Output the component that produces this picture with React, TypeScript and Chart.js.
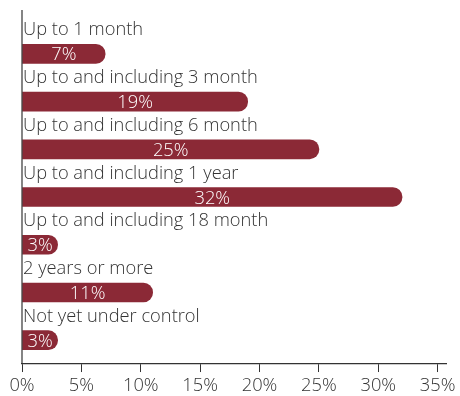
import React, { useEffect, useRef } from 'react';
import { Chart, registerables } from 'chart.js';

Chart.register(...registerables);

const categories = [
  'Up to 1 month',
  'Up to and including 3 month',
  'Up to and including 6 month',
  'Up to and including 1 year',
  'Up to and including 18 month',
  '2 years or more',
  'Not yet under control',
];
const values = [7, 19, 25, 32, 3, 11, 3];
const tickValues = [0, 5, 10, 15, 20, 25, 30, 35];
const axisMin = 0;
const axisMax = 35.7;

const BAR = '#8B2936';
const TEXT = '#333333';
const FONT = '"Open Sans", "Liberation Sans", sans-serif';
const FONT_SIZE = 18.3;
const FONT_WEIGHT = '300';

const labelsPlugin = {
  id: 'barLabels',
  afterDatasetsDraw(chart: any) {
    const { ctx, chartArea } = chart;
    const meta = chart.getDatasetMeta(0);
    ctx.save();
    ctx.strokeStyle = TEXT;
    ctx.lineWidth = 1.2;
    ctx.beginPath();
    ctx.moveTo(chartArea.left, 10);
    ctx.lineTo(chartArea.left, chartArea.bottom);
    ctx.stroke();

    ctx.font = `${FONT_WEIGHT} ${FONT_SIZE}px ${FONT}`;
    meta.data.forEach((bar: any, i: number) => {
      ctx.fillStyle = TEXT;
      ctx.textAlign = 'left';
      ctx.textBaseline = 'alphabetic';
      ctx.fillText(categories[i], chartArea.left + 1, bar.y - 18.5);
      ctx.fillStyle = '#ffffff';
      ctx.textAlign = 'center';
      ctx.fillText(`${values[i]}%`, (bar.base + bar.x) / 2, bar.y + 6.5);
    });
    ctx.restore();
  },
};

export default function App() {
  const ref = useRef<HTMLCanvasElement>(null);
  useEffect(() => {
    if (!ref.current) return;
    const chart = new Chart(ref.current, {
      type: 'bar',
      data: {
        labels: categories,
        datasets: [
          {
            data: values,
            backgroundColor: BAR,
            barThickness: 19,
            borderRadius: { topLeft: 0, bottomLeft: 0, topRight: 10, bottomRight: 10 },
          },
        ],
      },
      options: {
        indexAxis: 'y',
        animation: false,
        responsive: false,
        layout: { padding: { left: 22, right: 14, top: 30, bottom: -4 } },
        scales: {
          x: {
            type: 'linear',
            min: axisMin,
            max: axisMax,
            afterBuildTicks: (scale: any) => {
              scale.ticks = tickValues.map((v) => ({ value: v }));
            },
            grid: { drawOnChartArea: false, drawTicks: true, tickLength: 8, color: TEXT },
            border: { display: true, color: TEXT, width: 1.2 },
            ticks: {
              color: TEXT,
              font: { family: FONT, size: FONT_SIZE, weight: FONT_WEIGHT },
              padding: 3,
              maxRotation: 0,
              autoSkip: false,
              callback: (v: any) => `${v}%`,
            },
          },
          y: { type: 'category', display: false, offset: true },
        },
        plugins: { legend: { display: false }, tooltip: { enabled: false } },
      },
      plugins: [labelsPlugin],
    });
    return () => chart.destroy();
  }, []);
  return (
    <div style={{ position: 'fixed', left: 0, top: 0, width: 460, height: 396, background: '#fff', overflow: 'hidden' }}>
      <canvas ref={ref} width={460} height={396} style={{ display: 'block' }} />
    </div>
  );
}
